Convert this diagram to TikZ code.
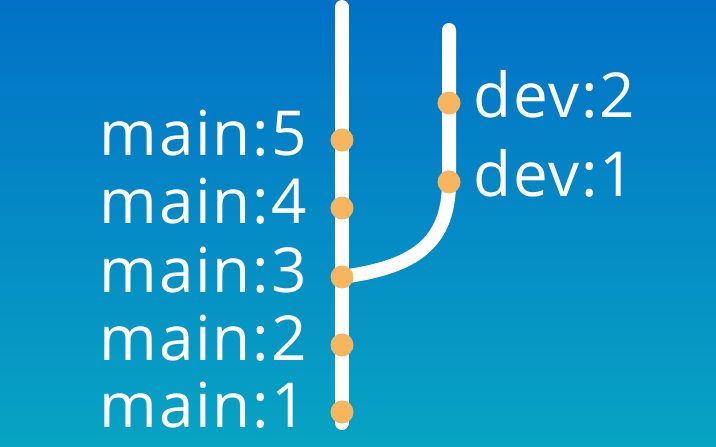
\documentclass[tikz,border=0pt]{standalone}
\usepackage{fontspec}
\setmainfont{Open Sans}[LetterSpace=3]
\definecolor{nenTren}{HTML}{0271C7}
\definecolor{nenDuoi}{HTML}{07A4C3}
\definecolor{camDiem}{HTML}{F8B55E}
\tikzset{
    nhanh/.style={white, line width=14pt, line cap=round},
    diem/.style={circle, fill=camDiem, inner sep=0pt, minimum size=23pt},
    nhan/.style={white, font=\fontsize{62}{64}\selectfont, inner sep=0pt}
}
\begin{document}
\begin{tikzpicture}[x=1pt, y=-1pt]
    % Nền
    \fill[top color=nenTren, bottom color=nenDuoi] (0,0) rectangle (716,447);
    \useasboundingbox (0,0) rectangle (716,447);

    % Các điểm
    \coordinate (mtop) at (342,7);
    \coordinate (mbot) at (342,423);
    \coordinate (dtop) at (449,30);
    \coordinate (m1) at (342,412);
    \coordinate (m2) at (342,345);
    \coordinate (m3) at (342,277);
    \coordinate (m4) at (342,208);
    \coordinate (m5) at (342,140);
    \coordinate (d1) at (449,182);
    \coordinate (d2) at (449,103);

    % Nhánh main và dev
    \draw[nhanh] (mtop) -- (mbot);
    \draw[nhanh] (dtop) -- (d1) .. controls (449,250) and (405,268) .. (m3);

    % Commit
    \foreach \i in {1,...,5} {
        \node[diem] (c\i) at (m\i) {};
        \node[nhan, anchor=base east] at ([xshift=-35pt, yshift=-15pt]m\i) {main:\i};
    }
    \foreach \i in {1,2} {
        \node[diem] (e\i) at (d\i) {};
        \node[nhan, anchor=base west] at ([xshift=24pt, yshift=-14pt]d\i) {dev:\i};
    }
\end{tikzpicture}
\end{document}
